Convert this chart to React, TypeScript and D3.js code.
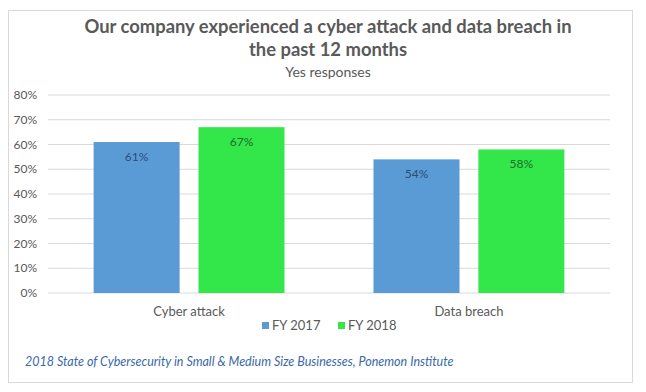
import React from "react";
import * as d3 from "d3";

const categories = ["Cyber attack", "Data breach"];
const seriesNames = ["FY 2017", "FY 2018"];
const fy2017 = [61, 54];
const fy2018 = [67, 58];
const yTicks = [0, 10, 20, 30, 40, 50, 60, 70, 80];

const colors = ["#5B9BD5", "#33E64A"];
const labelColors = ["#2B4E78", "#1E6B2A"];

const W = 646;
const H = 392;
const margin = { top: 95, right: 36, bottom: 99, left: 48 };
const font = "Lato, 'Open Sans', sans-serif";

export default function App() {
  const innerW = W - margin.left - margin.right;
  const innerH = H - margin.top - margin.bottom;

  const x0 = d3.scaleBand().domain(categories).range([0, innerW]).paddingInner(0.318).paddingOuter(0.163);
  const x1 = d3.scaleBand().domain(seriesNames).range([0, x0.bandwidth()]).paddingInner(0.18).paddingOuter(0);
  const y = d3.scaleLinear().domain([0, 80]).range([innerH, 0]);

  const series = [fy2017, fy2018];

  return (
    <svg width={W} height={H} style={{ position: "absolute", left: 0, top: 0, fontFamily: font }}>
      <rect x={8.5} y={10.5} width={624} height={372} fill="#fff" stroke="#d9d9d9" />
      <text x={328} y={33} textAnchor="middle" fontSize={18.4} fontWeight="bold" fill="#595959">
        Our company experienced a cyber attack and data breach in
      </text>
      <text x={328} y={56} textAnchor="middle" fontSize={18.4} fontWeight="bold" fill="#595959">
        the past 12 months
      </text>
      <text x={328} y={77} textAnchor="middle" fontSize={14} fill="#595959">
        Yes responses
      </text>
      <g transform={`translate(${margin.left},${margin.top})`}>
        {yTicks.map((t) => (
          <g key={t}>
            <line x1={0} x2={innerW} y1={y(t)} y2={y(t)} stroke="#d9d9d9" strokeWidth={1} />
            <text x={-11} y={y(t)} dy="0.35em" textAnchor="end" fontSize={12} fill="#595959">
              {t}%
            </text>
          </g>
        ))}
        {categories.map((c, i) => (
          <g key={c} transform={`translate(${x0(c)},0)`}>
            {seriesNames.map((s, j) => (
              <g key={s}>
                <rect
                  x={x1(s)}
                  y={y(series[j][i])}
                  width={x1.bandwidth()}
                  height={innerH - y(series[j][i])}
                  fill={colors[j]}
                />
                <text
                  x={(x1(s) || 0) + x1.bandwidth() / 2}
                  y={y(series[j][i]) + 19}
                  textAnchor="middle"
                  fontSize={12}
                  fill={labelColors[j]}
                >
                  {series[j][i]}%
                </text>
              </g>
            ))}
            <text x={x0.bandwidth() / 2} y={innerH + 23} textAnchor="middle" fontSize={13} fill="#595959">
              {c}
            </text>
          </g>
        ))}
      </g>
      <g transform="translate(262,330)">
        {seriesNames.map((s, j) => (
          <g key={s} transform={`translate(${j * 76},0)`}>
            <rect x={0} y={-8} width={7} height={7} fill={colors[j]} />
            <text x={10} y={0} fontSize={13} fill="#595959">
              {s}
            </text>
          </g>
        ))}
      </g>
      <text x={25} y={366} fontSize={12.5} fontStyle="italic" fill="#3A68A8">
        2018 State of Cybersecurity in Small &amp; Medium Size Businesses, Ponemon Institute
      </text>
    </svg>
  );
}
